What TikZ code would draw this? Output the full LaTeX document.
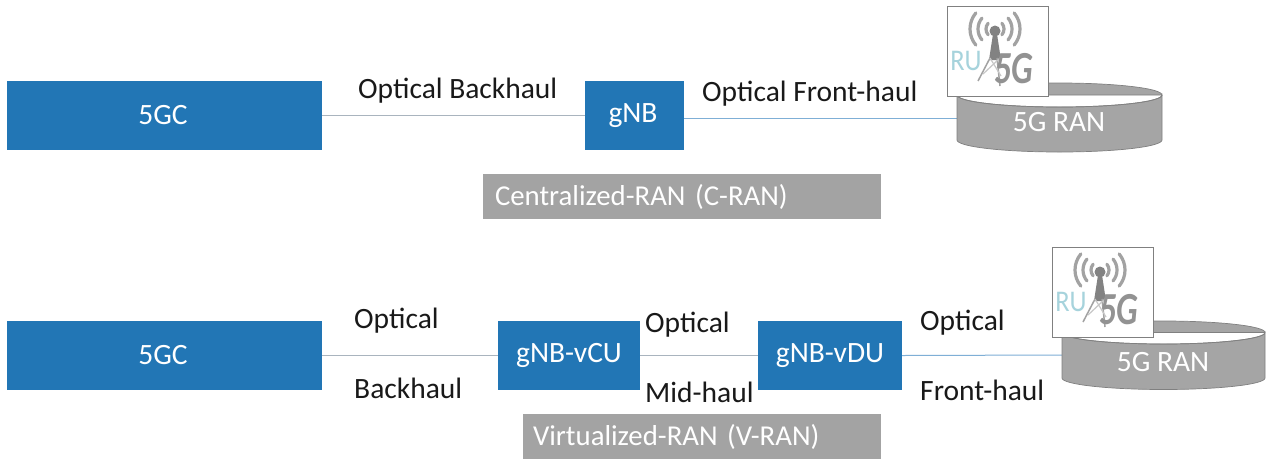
\documentclass[tikz,border=0pt]{standalone}
\usepackage{fontspec}
\setmainfont{Carlito}
\definecolor{boxblue}{HTML}{2276B5}
\definecolor{labelgrey}{HTML}{A3A3A3}
\definecolor{rangrey}{HTML}{A5A5A5}
\definecolor{edgegrey}{HTML}{808080}
\definecolor{icongrey}{HTML}{A2A2A2}
\definecolor{rublue}{HTML}{A6D3DC}
\definecolor{linegrey}{HTML}{A9B4BE}
\definecolor{lineblue}{HTML}{7FAFD6}
\tikzset{
  bluebox/.style={fill=boxblue,draw=none,inner sep=0pt,text=white,font=\fontsize{29.5}{29.5}\selectfont},
  greybox/.style={fill=labelgrey,draw=none,inner sep=0pt,text=white,font=\fontsize{28.8}{28.8}\selectfont},
  lbl/.style={anchor=base west,inner sep=0pt,text=black!90,font=\fontsize{29.5}{29.5}\selectfont},
  ranlbl/.style={inner sep=0pt,text=white,font=\fontsize{29.5}{29.5}\selectfont},
  link/.style={line width=1pt,draw=linegrey},
  linkb/.style={line width=1pt,draw=lineblue},
  disc/.style={fill=rangrey,draw=edgegrey,line width=0.7pt},
  iconframe/.style={draw=edgegrey,fill=white,line width=1pt,minimum width=101pt,minimum height=90pt,inner sep=0pt},
  wave/.style={draw=icongrey,line width=3.2pt,line cap=round},
  mast/.style={draw=icongrey,line width=1.5pt}
}
\newcommand{\ranicon}[3]{%
  \node[iconframe,anchor=north west] (#3) at (#1,#2) {};
  \begin{scope}[shift={(#1,#2)}]
    \foreach \r in {9,17,25}{
      \draw[wave] (48,23)++(140:\r) arc[start angle=220,end angle=140,radius=\r,x radius=\r,y radius=-\r];
      \draw[wave] (48,23)++(40:\r) arc[start angle=-40,end angle=40,radius=\r,x radius=\r,y radius=-\r];
    }
    \fill[icongrey!80!black] (48,25) circle[radius=5.5];
    \fill[icongrey!80!black] (46,28) -- (50,28) -- (54,54) -- (42,54) -- cycle;
    \draw[mast] (43,52) -- (31,75);
    \draw[mast] (50,52) -- (53,80);
    \draw[icongrey!60,line width=1.2pt] (43,52) -- (54,70) (53,52) -- (36,68);
    \node[inner sep=0pt,text=rublue,font=\fontsize{30}{30}\selectfont] (#3ru) at (19,55) {\scalebox{0.88}[1]{RU}};
    \node[inner sep=0pt,text=icongrey!90!black,font=\fontsize{34}{34}\selectfont\bfseries\itshape] (#3g) at (67,63) {\scalebox{1}[1.35]{5G}};
  \end{scope}}
\begin{document}
\begin{tikzpicture}[x=1pt,y=-1pt]
\useasboundingbox (0,0) rectangle (1266,459);
\fill[white] (0,0) rectangle (1266,459);
% upper row
\coordinate (ranAw) at (957,118);
\coordinate (ranBw) at (1062,355);
\node[bluebox,minimum width=315pt,minimum height=69pt,text width=299pt,align=center] (coreA) at (164.5,115.5) {\hspace*{-3pt}\raisebox{-1pt}{5GC}};
\node[bluebox,minimum width=99pt,minimum height=69pt] (gnb) at (634.5,115.5) {\hspace*{-3pt}\raisebox{-1pt}{gNB}};
\draw[link] (coreA.east) -- (gnb.west);
\draw[linkb] (gnb.east |- ranAw) -- (ranAw);
\node[lbl] (bh) at (358,98) {Optical Backhaul};
\node[lbl] (fh) at (702,101) {Optical Front-haul};
\node[greybox,minimum width=398pt,minimum height=45pt,text width=374pt,align=left] (cran) at (682,196.5) {\raisebox{-1pt}{Centralized-RAN (C-RAN)}};
\draw[disc] (957,95) -- (957,140) arc[start angle=180,end angle=360,x radius=102.5,y radius=-12] -- (1162,95) arc[start angle=0,end angle=360,x radius=102.5,y radius=12] -- cycle;
\draw[edgegrey,line width=0.7pt] (957,95) arc[start angle=180,end angle=360,x radius=102.5,y radius=-12];
\node[ranlbl] (ranA) at (1059,122) {5G RAN};
\ranicon{947}{6}{iconA}
% lower row
\node[bluebox,minimum width=315pt,minimum height=69pt,text width=299pt,align=center] (coreB) at (164.5,355.5) {\hspace*{-3pt}\raisebox{-1pt}{5GC}};
\node[bluebox,minimum width=142pt,minimum height=69pt] (vcu) at (569,355.5) {\raisebox{-1pt}{gNB-vCU}};
\node[bluebox,minimum width=144pt,minimum height=69pt] (vdu) at (830,355.5) {\raisebox{-1pt}{gNB-vDU}};
\draw[link] (coreB.east) -- (vcu.west);
\draw[link] (vcu.east) -- (vdu.west);
\draw[linkb] (vdu.east) -- (ranBw);
\node[lbl] (o1) at (354,328) {Optical};
\node[lbl] (b1) at (354,398) {Backhaul};
\node[lbl] (o2) at (645,332) {Optical};
\node[lbl] (m2) at (645,402) {Mid-haul};
\node[lbl] (o3) at (920,330) {Optical};
\node[lbl] (f3) at (920,400) {Front-haul};
\node[greybox,minimum width=358pt,minimum height=45pt,text width=338pt,align=left] (vran) at (702,436.5) {\raisebox{-1pt}{Virtualized-RAN (V-RAN)}};
\draw[disc] (1062,332.5) -- (1062,378) arc[start angle=180,end angle=360,x radius=101.5,y radius=-11.5] -- (1265,332.5) arc[start angle=0,end angle=360,x radius=101.5,y radius=11.5] -- cycle;
\draw[edgegrey,line width=0.7pt] (1062,332.5) arc[start angle=180,end angle=360,x radius=101.5,y radius=-11.5];
\node[ranlbl] (ranB) at (1163,362) {5G RAN};
\ranicon{1052}{247}{iconB}
\end{tikzpicture}
\end{document}
